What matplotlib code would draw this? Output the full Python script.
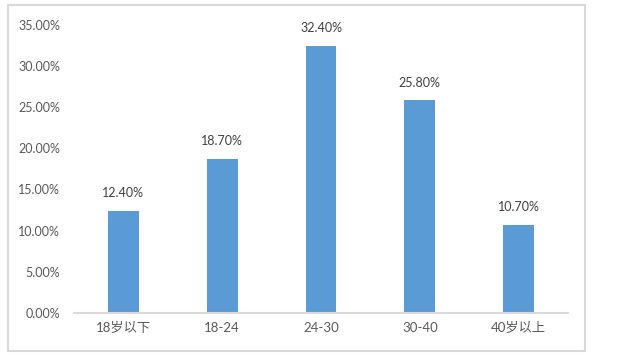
import matplotlib.pyplot as plt
from matplotlib.patches import Rectangle
import numpy as np

plt.rcParams['font.family'] = ['Lato', 'Noto Sans CJK SC', 'DejaVu Sans']

categories = ['18岁以下', '18-24', '24-30', '30-40', '40岁以上']
values = [12.4, 18.7, 32.4, 25.8, 10.7]
yticks = [0, 5, 10, 15, 20, 25, 30, 35]

fig = plt.figure(figsize=(6.18, 3.59), dpi=100)
ax = fig.add_axes([74 / 618, 1 - 313 / 359, 494 / 618, (313 - 24.6) / 359])

x = np.arange(len(categories))
ax.bar(x, values, width=0.31, color='#5B9BD5', zorder=2)
for xi, v in zip(x, values):
    ax.annotate('%.2f%%' % v, (xi, v), xytext=(0, 8.5), textcoords='offset points',
                ha='center', va='bottom', fontsize=9, color='#404040')

ax.set_xlim(-0.5, len(categories) - 0.5)
ax.set_ylim(0, 35)
ax.set_yticks(yticks)
ax.set_yticklabels(['%.2f%%' % t for t in yticks])
ax.set_xticks(x)
ax.set_xticklabels(categories)
ax.tick_params(axis='both', length=0, labelsize=9, colors='#595959')
ax.tick_params(axis='y', pad=10)
ax.tick_params(axis='x', pad=6.5)
for lbl in ax.get_xticklabels():
    lbl.set_fontsize(9.5)
for s in ['top', 'right', 'left']:
    ax.spines[s].set_visible(False)
ax.spines['bottom'].set_color('#d9d9d9')
ax.spines['bottom'].set_linewidth(1.5)

# outer chart border
fig.patches.append(Rectangle((8 / 618, 1 - 351 / 359), 577 / 618, 346 / 359,
                             transform=fig.transFigure, fill=False,
                             edgecolor='#d9d9d9', linewidth=1.5))

fig.savefig('out.png', dpi=100)
